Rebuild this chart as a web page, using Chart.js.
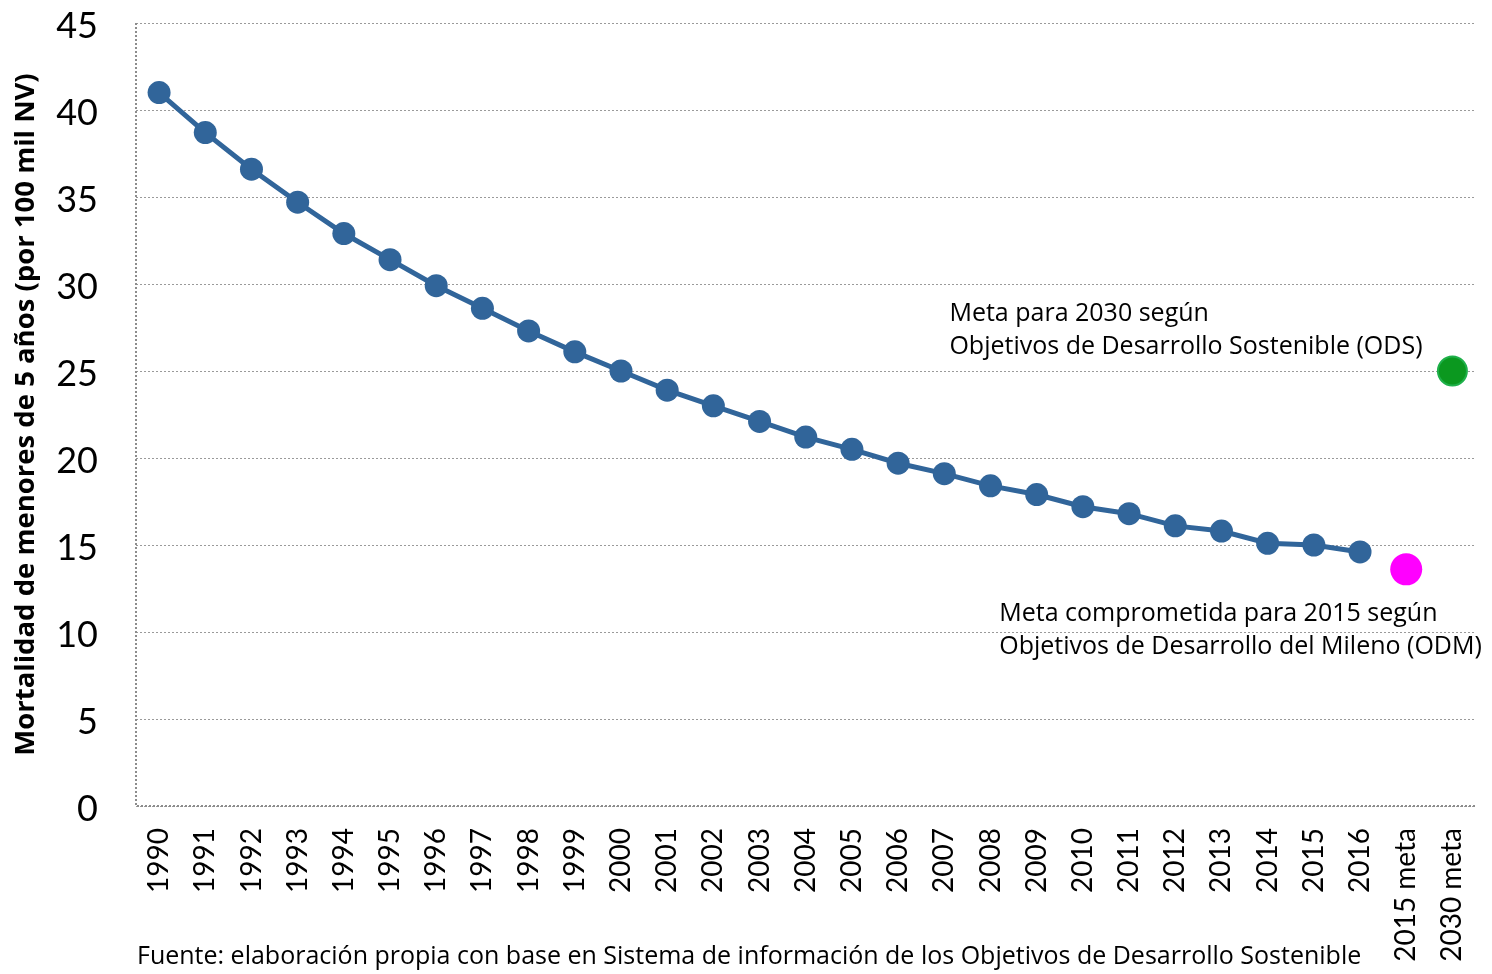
<!DOCTYPE html>
<html>
<head>
<meta charset="utf-8">
<script src="https://cdn.jsdelivr.net/npm/chart.js@4/dist/chart.umd.min.js"></script>
<style>
  body { margin: 0; background: #fff; }
  #wrap { width: 1492px; height: 974px; }
</style>
</head>
<body>
<div id="wrap"><canvas id="chart" width="1492" height="974"></canvas></div>
<script>
const years = ['1990', '1991', '1992', '1993', '1994', '1995', '1996', '1997', '1998', '1999',
  '2000', '2001', '2002', '2003', '2004', '2005', '2006', '2007', '2008', '2009',
  '2010', '2011', '2012', '2013', '2014', '2015', '2016', '2015 meta', '2030 meta'];

const mortalidad = [41.0, 38.7, 36.6, 34.7, 32.9, 31.4, 29.9, 28.6, 27.3, 26.1,
  25.0, 23.9, 23.0, 22.1, 21.2, 20.5, 19.7, 19.1, 18.4, 17.9,
  17.2, 16.8, 16.1, 15.8, 15.1, 15.0, 14.6, null, null];

const metaOdm = [null, null, null, null, null, null, null, null, null, null,
  null, null, null, null, null, null, null, null, null, null,
  null, null, null, null, null, null, null, 13.6, null];

const metaOds = [null, null, null, null, null, null, null, null, null, null,
  null, null, null, null, null, null, null, null, null, null,
  null, null, null, null, null, null, null, null, 25.0];

const yTitle = 'Mortalidad de menores de 5 años (por 100 mil NV)';
const fuente = 'Fuente: elaboración propia con base en Sistema de información de los Objetivos de Desarrollo Sostenible';
const odsLabel = ['Meta para 2030 según', 'Objetivos de Desarrollo Sostenible (ODS)'];
const odmLabel = ['Meta comprometida para 2015 según', 'Objetivos de Desarrollo del Mileno (ODM)'];

const TEXT_FONT = '"Open Sans", sans-serif';
const NUM_FONT = 'Lato, sans-serif';

// dotted axis lines, annotations and source note
const extras = {
  id: 'extras',
  afterDraw(chart) {
    const { ctx, chartArea } = chart;
    const x = chart.scales.x;
    const y = chart.scales.y;
    ctx.save();
    ctx.strokeStyle = '#8c8c8c';
    ctx.lineWidth = 2;
    ctx.setLineDash([2, 2]);
    ctx.beginPath();
    ctx.moveTo(chartArea.left, chartArea.top);
    ctx.lineTo(chartArea.left, chartArea.bottom);
    ctx.lineTo(chartArea.right, chartArea.bottom);
    ctx.stroke();
    ctx.setLineDash([]);

    ctx.fillStyle = '#000';
    ctx.font = '25px ' + TEXT_FONT;
    ctx.textBaseline = 'middle';
    ctx.textAlign = 'left';

    const gx = x.getPixelForValue(28);
    const gy = y.getPixelForValue(25);
    ctx.fillText(odsLabel[0], gx - 503, gy - 57);
    ctx.fillText(odsLabel[1], gx - 503, gy - 24);

    const mx = x.getPixelForValue(27);
    const my = y.getPixelForValue(13.6);
    ctx.fillText(odmLabel[0], mx - 407, my + 45);
    ctx.fillText(odmLabel[1], mx - 407, my + 78);

    ctx.fillText(fuente, 137, 957);
    ctx.restore();
  }
};

new Chart(document.getElementById('chart'), {
  type: 'line',
  data: {
    labels: years,
    datasets: [
      {
        data: mortalidad,
        borderColor: '#31659a',
        backgroundColor: '#31659a',
        borderWidth: 5,
        pointRadius: 11.5,
        pointHoverRadius: 11.5,
        pointBorderWidth: 0,
        tension: 0
      },
      {
        data: metaOdm,
        showLine: false,
        backgroundColor: '#ff00ff',
        borderColor: '#ff00ff',
        pointRadius: 16,
        pointBorderWidth: 0
      },
      {
        data: metaOds,
        showLine: false,
        backgroundColor: '#0b981f',
        borderColor: '#1fb04a',
        pointRadius: 14.5,
        pointBorderWidth: 2
      }
    ]
  },
  options: {
    responsive: false,
    animation: false,
    layout: { padding: { top: 23, right: 15, left: 0, bottom: 0 } },
    plugins: {
      legend: { display: false },
      tooltip: { enabled: false }
    },
    scales: {
      x: {
        offset: true,
        grid: { display: false },
        border: { display: false },
        ticks: {
          color: '#000',
          font: { family: NUM_FONT, size: 28 },
          minRotation: 90,
          maxRotation: 90,
          autoSkip: false,
          padding: 14
        },
        afterFit(scale) {
          scale.height = 168;
          scale.paddingLeft = 0;
          scale.paddingRight = 0;
        }
      },
      y: {
        min: 0,
        max: 45,
        grid: {
          color: '#9a9a9a',
          lineWidth: 1,
          drawTicks: false
        },
        border: { display: false, dash: [2, 2] },
        ticks: {
          stepSize: 5,
          color: '#000',
          font: { family: NUM_FONT, size: 36 },
          padding: 38,
          labelOffset: 3
        },
        title: {
          display: true,
          text: yTitle,
          color: '#000',
          font: { family: TEXT_FONT, size: 27.5, weight: 'bold' },
          padding: { top: 10, bottom: 0 }
        },
        afterFit(scale) {
          scale.width = 136;
          scale.paddingTop = 0;
          scale.paddingBottom = 0;
        }
      }
    }
  },
  plugins: [extras]
});
</script>
</body>
</html>
